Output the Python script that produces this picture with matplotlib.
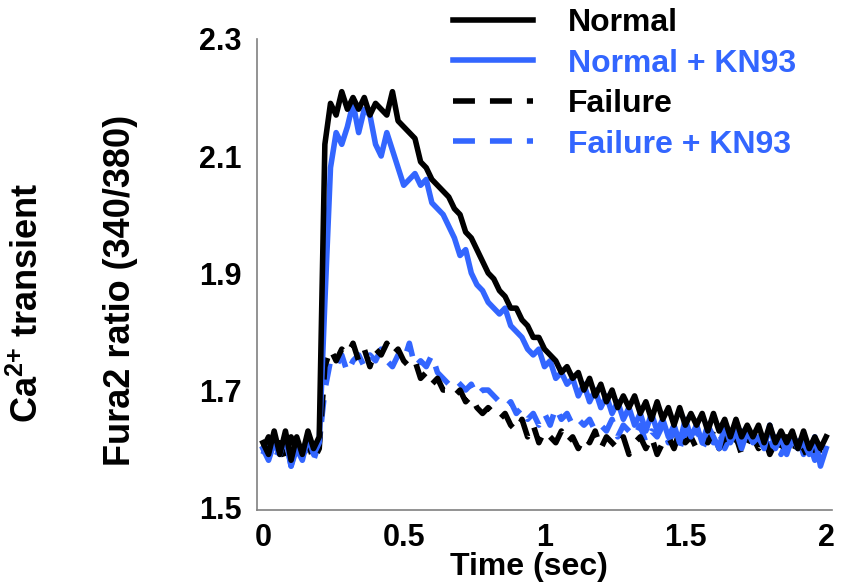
import matplotlib
matplotlib.use("Agg")
import matplotlib.pyplot as plt
import numpy as np

plt.rcParams['font.family'] = ['Liberation Sans', 'DejaVu Sans']
plt.rcParams['font.weight'] = 'bold'
plt.rcParams['lines.scale_dashes'] = False
plt.rcParams['mathtext.fontset'] = 'custom'
plt.rcParams['mathtext.rm'] = 'Liberation Sans:bold'
plt.rcParams['mathtext.bf'] = 'Liberation Sans:bold'

# time axis, 20 ms sampling
time = np.arange(101) * 0.02

normal = [
    1.61, 1.59, 1.63, 1.59, 1.63, 1.58, 1.62, 1.59, 1.63, 1.60,
    1.62, 2.12, 2.19, 2.17, 2.21, 2.18, 2.20, 2.18, 2.20, 2.17,
    2.19, 2.18, 2.17, 2.21, 2.16, 2.15, 2.14, 2.13, 2.09, 2.08,
    2.06, 2.05, 2.04, 2.03, 2.01, 2.00, 1.97, 1.96, 1.94, 1.92,
    1.90, 1.89, 1.87, 1.86, 1.84, 1.84, 1.82, 1.81, 1.79, 1.79,
    1.77, 1.76, 1.75, 1.73, 1.74, 1.72, 1.73, 1.70, 1.72, 1.69,
    1.71, 1.68, 1.70, 1.67, 1.69, 1.67, 1.69, 1.66, 1.68, 1.65,
    1.68, 1.65, 1.67, 1.64, 1.67, 1.64, 1.66, 1.64, 1.66, 1.63,
    1.66, 1.63, 1.65, 1.62, 1.65, 1.62, 1.64, 1.62, 1.64, 1.61,
    1.64, 1.61, 1.63, 1.61, 1.63, 1.60, 1.63, 1.60, 1.62, 1.60,
    1.62,
]

normal_kn93 = [
    1.60, 1.58, 1.61, 1.59, 1.62, 1.57, 1.60, 1.58, 1.62, 1.59,
    1.61, 1.85, 2.08, 2.14, 2.12, 2.15, 2.19, 2.14, 2.18, 2.17,
    2.12, 2.10, 2.14, 2.11, 2.08, 2.05, 2.06, 2.07, 2.05, 2.06,
    2.02, 2.01, 2.00, 1.98, 1.96, 1.93, 1.94, 1.90, 1.88, 1.87,
    1.85, 1.84, 1.83, 1.84, 1.81, 1.80, 1.79, 1.77, 1.76, 1.77,
    1.74, 1.75, 1.72, 1.73, 1.71, 1.72, 1.69, 1.71, 1.68, 1.70,
    1.67, 1.69, 1.66, 1.68, 1.65, 1.67, 1.64, 1.66, 1.63, 1.66,
    1.63, 1.65, 1.62, 1.64, 1.61, 1.65, 1.62, 1.64, 1.61, 1.64,
    1.62, 1.60, 1.64, 1.61, 1.63, 1.60, 1.63, 1.61, 1.62, 1.60,
    1.64, 1.60, 1.62, 1.59, 1.62, 1.60, 1.61, 1.59, 1.62, 1.57,
    1.60,
]

failure = [
    1.60, 1.62, 1.59, 1.61, 1.58, 1.62, 1.60, 1.59, 1.61, 1.58,
    1.60, 1.74, 1.77, 1.75, 1.77, 1.76, 1.78, 1.75, 1.77, 1.74,
    1.77, 1.76, 1.78, 1.76, 1.77, 1.75, 1.74, 1.75, 1.72, 1.73,
    1.71, 1.72, 1.70, 1.70, 1.69, 1.70, 1.68, 1.69, 1.67, 1.66,
    1.67, 1.66, 1.65, 1.66, 1.64, 1.63, 1.65, 1.62, 1.64, 1.61,
    1.63, 1.62, 1.61, 1.63, 1.61, 1.62, 1.60, 1.62, 1.61, 1.63,
    1.60, 1.62, 1.61, 1.60, 1.62, 1.59, 1.61, 1.62, 1.60, 1.62,
    1.59, 1.61, 1.62, 1.60, 1.63, 1.61, 1.62, 1.60, 1.62, 1.61,
    1.63, 1.60, 1.62, 1.60, 1.62, 1.59, 1.61, 1.62, 1.60, 1.62,
    1.59, 1.61, 1.60, 1.62, 1.59, 1.61, 1.60, 1.58, 1.61, 1.59,
    1.61,
]

failure_kn93 = [
    1.59, 1.61, 1.58, 1.60, 1.62, 1.57, 1.61, 1.59, 1.60, 1.58,
    1.61, 1.70, 1.75, 1.74, 1.76, 1.73, 1.75, 1.76, 1.74, 1.76,
    1.75, 1.77, 1.75, 1.74, 1.76, 1.75, 1.78, 1.74, 1.75, 1.74,
    1.76, 1.73, 1.72, 1.71, 1.72, 1.71, 1.70, 1.71, 1.69, 1.70,
    1.70, 1.69, 1.68, 1.67, 1.68, 1.66, 1.67, 1.65, 1.66, 1.64,
    1.66, 1.64, 1.67, 1.65, 1.66, 1.64, 1.65, 1.64, 1.65, 1.63,
    1.64, 1.63, 1.65, 1.62, 1.64, 1.63, 1.62, 1.64, 1.61, 1.63,
    1.62, 1.64, 1.61, 1.63, 1.60, 1.63, 1.61, 1.64, 1.60, 1.62,
    1.61, 1.63, 1.60, 1.62, 1.61, 1.63, 1.60, 1.62, 1.61, 1.63,
    1.60, 1.62, 1.59, 1.61, 1.60, 1.62, 1.59, 1.61, 1.58, 1.61,
    1.60,
]

x_ticks = [0, 0.5, 1, 1.5, 2]
x_ticklabels = ['0', '0.5', '1', '1.5', '2']
y_ticks = [1.5, 1.7, 1.9, 2.1, 2.3]
y_ticklabels = ['1.5', '1.7', '1.9', '2.1', '2.3']

black = '#000000'
blue = '#3366ff'
lw = 4.0
dash = (0, (15.8, 10.8))

fig = plt.figure(figsize=(8.42, 5.83), dpi=100)
ax = fig.add_axes([257 / 842, 1 - 510 / 583, 575 / 842, 471 / 583])

l4, = ax.plot(time, failure_kn93, color=blue, lw=lw, ls=dash, label='Failure + KN93')
l3, = ax.plot(time, failure, color=black, lw=lw, ls=dash, label='Failure')
l2, = ax.plot(time, normal_kn93, color=blue, lw=lw, label='Normal + KN93')
l1, = ax.plot(time, normal, color=black, lw=lw, label='Normal')

ax.set_xlim(-0.021, 2.021)
ax.set_ylim(1.495, 2.3)
ax.set_xticks(x_ticks)
ax.set_xticklabels(x_ticklabels)
ax.set_yticks(y_ticks)
ax.set_yticklabels(y_ticklabels)
ax.tick_params(length=0, labelsize=22)
ax.tick_params(axis='y', pad=11)
ax.tick_params(axis='x', pad=9)
for lab in ax.get_xticklabels() + ax.get_yticklabels():
    lab.set_fontweight('bold')

for s in ['top', 'right']:
    ax.spines[s].set_visible(False)
for s in ['left', 'bottom']:
    ax.spines[s].set_color('#808080')
    ax.spines[s].set_linewidth(1.2)

leg = ax.legend(handles=[l1, l2, l3, l4], loc='upper left',
                bbox_to_anchor=(453 / 842, 1 - 8 / 583),
                bbox_transform=fig.transFigure, frameon=False,
                handlelength=2.5, handletextpad=1.1,
                labelspacing=0.33, borderpad=0, borderaxespad=0,
                labelcolor='linecolor', prop={'weight': 'bold', 'size': 23})

fig.text(529 / 842, 1 - 567 / 583, 'Time (sec)', ha='center', va='center',
         fontsize=23, fontweight='bold')
fig.text(28 / 842, 1 - 303 / 583, 'Ca$^{\\mathbf{2{+}}}$ transient', rotation=90,
         ha='center', va='center', fontsize=26, fontweight='bold')
fig.text(120 / 842, 1 - 290 / 583, 'Fura2 ratio (340/380)', rotation=90,
         ha='center', va='center', fontsize=26, fontweight='bold')

fig.savefig('out.png', dpi=100)
